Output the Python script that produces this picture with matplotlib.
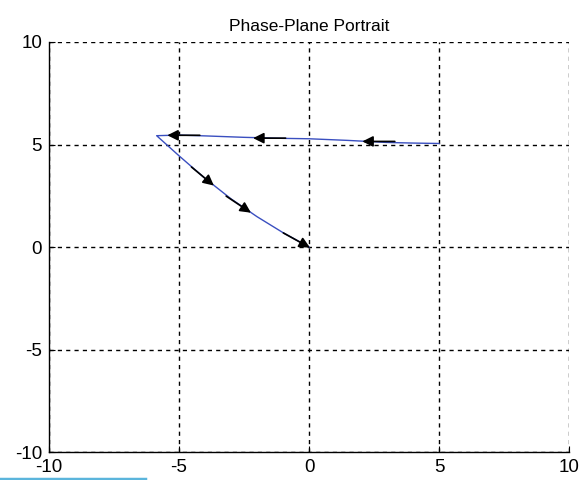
import numpy as np
import matplotlib.pyplot as plt
from matplotlib.lines import Line2D

plt.rcParams['font.family'] = ['Liberation Sans', 'DejaVu Sans']
plt.rcParams['axes.unicode_minus'] = False

# trajectory: starts at (5, 5), runs left, then down to the origin
traj_x = [5.0, 4.0, 3.0, 1.5, 0.0, -1.0, -2.5, -4.0, -5.0, -5.86,
          -5.0, -4.0, -3.0, -2.0, -1.0, 0.0]
traj_y = [5.05, 5.07, 5.1, 5.2, 5.28, 5.3, 5.35, 5.42, 5.46, 5.43,
          4.45, 3.35, 2.35, 1.48, 0.7, 0.0]

# arrow heads (position and direction)
arr_x = [2.4, -1.8, -5.1, -3.9, -2.5, -0.25]
arr_y = [5.15, 5.31, 5.45, 3.25, 1.9, 0.17]
arr_u = [-1, -1, -1, 1, 1, 1]
arr_v = [0, 0, 0, -1.05, -0.85, -0.7]

fig = plt.figure(figsize=(5.82, 4.8), dpi=100)
ax = fig.add_axes([0.0842, 0.0583, 0.8935, 0.8542])

ax.plot(traj_x, traj_y, color='#3a4fc0', lw=1)
for x, y, u, v in zip(arr_x, arr_y, arr_u, arr_v):
    n = np.hypot(u, v)
    ax.annotate('', xy=(x + 0.35 * u / n, y + 0.35 * v / n),
                xytext=(x - 0.9 * u / n, y - 0.9 * v / n),
                arrowprops=dict(arrowstyle='-|>', color='black', lw=1.2,
                                mutation_scale=16, shrinkA=0, shrinkB=0))

ax.set_xlim(-10, 10)
ax.set_ylim(-10, 10)
ax.set_xticks([-10, -5, 0, 5, 10])
ax.set_yticks([-10, -5, 0, 5, 10])
ax.grid(True, color='black', linestyle=(0, (3, 3)), lw=1)
ax.spines['top'].set_visible(False)
ax.spines['right'].set_visible(False)
for s in ['left', 'bottom']:
    ax.spines[s].set_linewidth(1)
ax.tick_params(direction='in', length=4, labelsize=13.5, pad=5)
ax.set_title('Phase-Plane Portrait', fontsize=12.5, pad=8)

fig.add_artist(Line2D([0, 145 / 582], [1.5 / 480, 1.5 / 480],
                      color='#5bb5dc', lw=2.5, transform=fig.transFigure))

fig.savefig('out.png', dpi=100)
